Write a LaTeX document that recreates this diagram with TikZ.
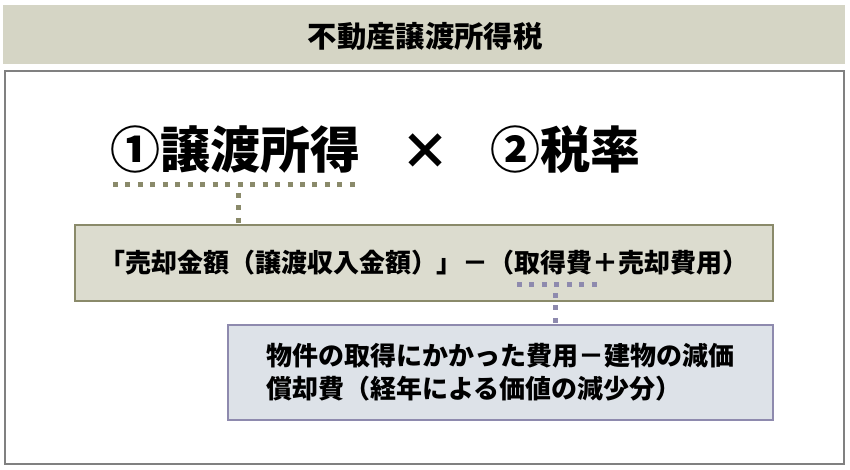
\documentclass[tikz,border=0pt]{standalone}
\usepackage{fontspec}
\setmainfont{Noto Sans CJK JP}
\definecolor{bandgray}{RGB}{213,213,197}
\definecolor{olivebox}{RGB}{220,220,207}
\definecolor{oliveline}{RGB}{138,138,106}
\definecolor{bluebox}{RGB}{221,226,232}
\definecolor{purpleline}{RGB}{142,138,174}
\definecolor{framegray}{RGB}{128,128,128}
\begin{document}
\begin{tikzpicture}[x=0.75pt, y=-0.75pt,
		dotline/.style={line width=3.75pt, dash pattern=on 3.75pt off 5.6pt},
		bigtext/.style={font=\fontsize{37.5}{40}\selectfont\bfseries},
		boxtext/.style={font=\fontsize{19.5}{24.75}\selectfont\bfseries}]
		\useasboundingbox (0,0) rectangle (850,470);
		\fill[bandgray] (3,5) rectangle (845,64);
		\node[font=\fontsize{22}{24}\selectfont\bfseries] (title) at (425,36) {不動産譲渡所得税};
		\draw[framegray, line width=1.5pt] (5,71) rectangle (844,464);
		
		\node[bigtext] (income) at (235,150) {①譲渡所得};
		\node[bigtext] (times) at (425,152) {×};
		\node[bigtext] (rate) at (565,150) {②税率};
		
		\node[boxtext, draw=oliveline, fill=olivebox, line width=1.5pt, minimum width=523.5pt, minimum height=57pt] (gain) at (424,263) {「売却金額（譲渡収入金額）」－（取得費＋売却費用）};
		\node[boxtext, draw=purpleline, fill=bluebox, line width=1.5pt, minimum width=408.75pt, minimum height=71.25pt, align=left] (cost) at (500.5,372.5) {物件の取得にかかった費用－建物の減価\\償却費（経年による価値の減少分）};
		
		\coordinate (u1a) at (113,185);
		\coordinate (u1b) at (362,185);
		\coordinate (u1m) at (238,193);
		\draw[dotline, oliveline] (u1a) -- (u1b);
		\draw[dotline, oliveline] (u1m) -- (u1m |- gain.north);
		
		\coordinate (u2a) at (517,285);
		\coordinate (u2b) at (597,285);
		\coordinate (u2m) at (555,293);
		\draw[dotline, purpleline] (u2a) -- (u2b);
		\draw[dotline, purpleline] (u2m) -- (u2m |- cost.north);
	\end{tikzpicture}
\end{document}
